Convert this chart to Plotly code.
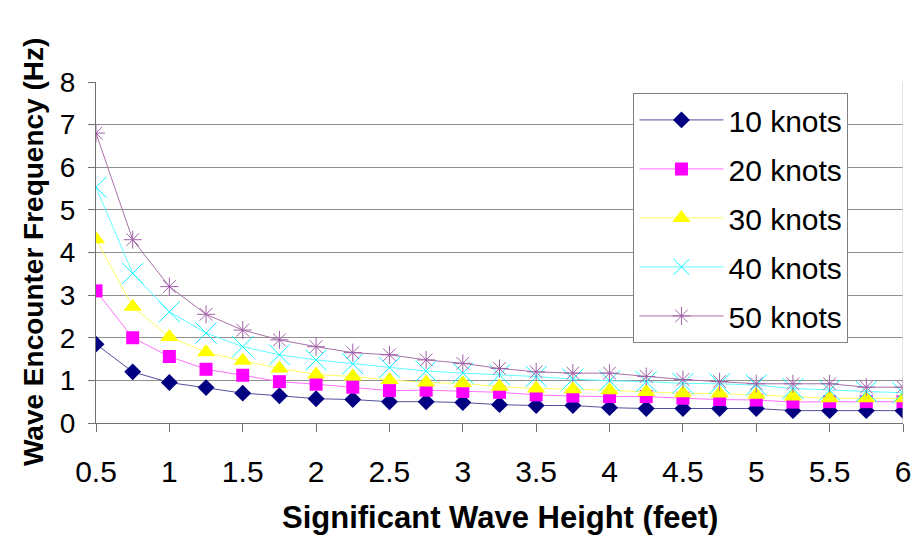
import plotly.graph_objects as go

heights = [0.5, 0.75, 1.0, 1.25, 1.5, 1.75, 2.0, 2.25, 2.5, 2.75, 3.0, 3.25,
           3.5, 3.75, 4.0, 4.25, 4.5, 4.75, 5.0, 5.25, 5.5, 5.75, 6.0]

knots10 = [1.85, 1.20, 0.95, 0.83, 0.70, 0.64, 0.57, 0.55, 0.50, 0.50, 0.48, 0.43,
           0.41, 0.41, 0.36, 0.34, 0.34, 0.34, 0.34, 0.29, 0.29, 0.29, 0.29]
knots20 = [3.10, 2.00, 1.56, 1.26, 1.12, 0.97, 0.91, 0.84, 0.76, 0.77, 0.74, 0.72,
           0.66, 0.63, 0.62, 0.62, 0.58, 0.55, 0.54, 0.49, 0.50, 0.50, 0.50]
knots30 = [4.31, 2.73, 2.02, 1.66, 1.46, 1.28, 1.14, 1.09, 1.01, 0.95, 0.93, 0.85,
           0.81, 0.79, 0.77, 0.73, 0.70, 0.69, 0.66, 0.62, 0.58, 0.58, 0.58]
knots40 = [5.53, 3.51, 2.61, 2.11, 1.79, 1.60, 1.48, 1.39, 1.30, 1.22, 1.17, 1.13,
           1.09, 1.03, 0.99, 0.97, 0.93, 0.92, 0.89, 0.81, 0.77, 0.74, 0.71]
knots50 = [6.80, 4.30, 3.20, 2.55, 2.18, 1.95, 1.79, 1.65, 1.60, 1.48, 1.40, 1.28,
           1.20, 1.17, 1.17, 1.09, 1.02, 0.97, 0.92, 0.92, 0.92, 0.84, 0.84]

series_names = ["10 knots", "20 knots", "30 knots", "40 knots", "50 knots"]
x_ticks = [0.5, 1, 1.5, 2, 2.5, 3, 3.5, 4, 4.5, 5, 5.5, 6]
y_ticks = [0, 1, 2, 3, 4, 5, 6, 7, 8]

FONT = "Liberation Sans, Arial, sans-serif"

styles = [
    dict(color="#000080", line="#5050a0", symbol="diamond", size=13, lw=0),
    dict(color="#FF00FF", line="#ff70ff", symbol="square", size=13, lw=0),
    dict(color="#FFFF00", line="#ffff60", symbol="triangle-up", size=16, lw=0),
    dict(color="#00FFFF", line="#60ffff", symbol="x-thin", size=21, lw=1),
    dict(color="#a060a8", line="#a870a8", symbol="asterisk", size=15, lw=1),
]

fig = go.Figure()
for name, ys, st in zip(series_names, [knots10, knots20, knots30, knots40, knots50], styles):
    fig.add_trace(go.Scatter(
        x=heights, y=ys, name=name, mode="lines+markers",
        legendgroup=name,
        line=dict(color=st["line"], width=1),
        marker=dict(symbol=st["symbol"], size=st["size"], color=st["color"],
                    line=dict(color=st["color"], width=st["lw"])),
    ))

fig.add_shape(type="line", xref="x", yref="y", x0=6, x1=6, y0=0, y1=8,
              line=dict(color="#c8c8c8", width=1))

fig.update_layout(
    width=923, height=544,
    margin=dict(l=96, r=13, t=82, b=121),
    paper_bgcolor="white", plot_bgcolor="white",
    font=dict(family=FONT, size=28, color="black"),
    showlegend=True,
    legend=dict(
        x=0.666, y=0.968, xanchor="left", yanchor="top",
        bgcolor="white", bordercolor="#808080", borderwidth=1,
        font=dict(family=FONT, size=30, color="black"),
        tracegroupgap=7, itemwidth=84,
    ),
    xaxis=dict(
        range=[0.5, 6], tickvals=x_ticks, ticktext=[str(v) for v in x_ticks],
        showgrid=False, zeroline=False,
        showline=True, linecolor="#707070", linewidth=1,
        ticks="outside", ticklen=8, tickcolor="#707070",
        ticklabelstandoff=14,
        tickfont=dict(family=FONT, size=30, color="black"),
    ),
    yaxis=dict(
        range=[0, 8], tickvals=y_ticks,
        showgrid=True, gridcolor="#909090", gridwidth=1, zeroline=False,
        showline=True, linecolor="#707070", linewidth=1,
        ticks="outside", ticklen=7, tickcolor="#707070",
        ticklabelstandoff=7,
        tickfont=dict(family=FONT, size=28, color="black"),
    ),
    annotations=[
        dict(text="<b>Significant Wave Height (feet)</b>", xref="paper", yref="paper",
             x=0.5, y=-0.2757, xanchor="center", yanchor="middle", showarrow=False,
             font=dict(family=FONT, size=31, color="black")),
        dict(text="<b>Wave Encounter Frequency (Hz)</b>", xref="paper", yref="paper",
             x=-0.0774, y=0.5, xanchor="center", yanchor="middle", showarrow=False,
             textangle=-90, font=dict(family=FONT, size=28, color="black")),
    ],
)

fig.write_html("out.html")
